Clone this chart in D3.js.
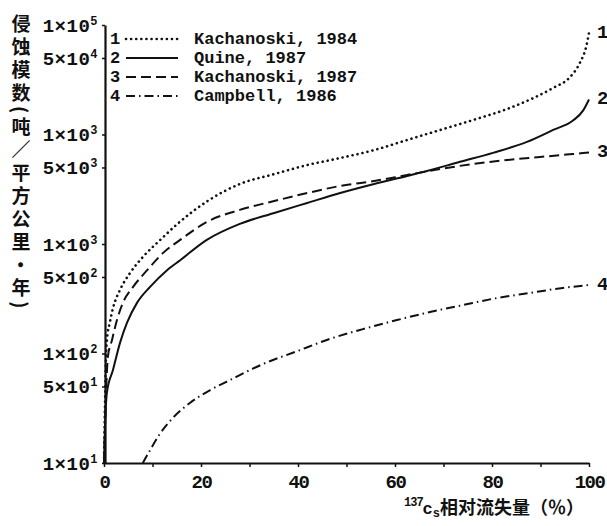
<!DOCTYPE html>
<html lang="zh">
<head>
<meta charset="UTF-8">
<title>137Cs 相对流失量与侵蚀模数</title>
<script src="https://d3js.org/d3.v7.min.js"></script>
<style>
  body { margin: 0; background: #fff; }
  .num { font-family: "Liberation Mono", "DejaVu Sans Mono", monospace; font-weight: bold; fill: #111; }
  .cjk { font-family: "Noto Sans CJK SC", sans-serif; font-weight: bold; fill: #111; }
  .axis path, .axis line { stroke: #111; }
</style>
</head>
<body>
<script>
// values: [137Cs loss %, erosion rate t/km2/yr]
const kach1984 = [[0,10],[0.2,35],[0.4,90],[0.6,133],[1.24,195],[1.86,260],[3.3,380],[5.4,546],[8,760],
  [11.6,1090],[15.1,1520],[21.3,2460],[28,3530],[35.1,4350],[41.9,5260],[48.7,6100],[55.7,7210],
  [62.5,8910],[69.3,11000],[76.1,13560],[83.1,17100],[88.5,21500],[92.6,26600],[96.1,33500],
  [98.1,45000],[99.4,63000],[100,84500]];
const quine1987 = [[0,10],[0.2,21],[0.6,44],[1.86,71],[3.3,125],[4.75,191],[6.8,290],[9.5,406],
  [13,577],[15.7,711],[21.2,1090],[28,1525],[35.1,1920],[41.9,2370],[48.7,2920],[55.7,3530],
  [62.5,4180],[66.6,4640],[73.4,5630],[80.2,6800],[87.2,8560],[92.6,11000],[96.7,13400],
  [98.8,16600],[100,20900]];
const kach1987 = [[0,10],[0.3,30],[0.8,93],[1.65,133],[2.7,204],[3.9,290],[6,406],[8.9,577],[12.2,830],
  [15.7,1090],[21.2,1590],[28,2050],[35.1,2470],[41.9,2920],[48.7,3390],[55.7,3760],[62.5,4270],
  [69.3,4840],[76.1,5380],[83.1,5850],[89.9,6230],[96.7,6640],[100,6850]];
const campbell1986 = [[8,10],[9.5,13.1],[11.5,18.4],[14.2,25.8],[17.7,35.3],[21.9,46.4],[26,57.3],
  [32.8,80.2],[39.8,105],[46.6,136],[53.4,167],[60.4,202],[67.2,239],[74,277],[81,321],[87.8,357],
  [94.6,397],[100,422]];

const seriesData = [kach1984, quine1987, kach1987, campbell1986];
const seriesNames = ["Kachanoski, 1984", "Quine, 1987", "Kachanoski, 1987", "Campbell, 1986"];
const seriesDash = ["0.1 5", null, "10 5", "9 4 1.5 4"];

const xTicks = d3.range(0, 101, 10);
const yTicks = [1e5, 5e4, 1e4, 5e3, 1e3, 5e2, 1e2, 5e1, 1e1];
const yTickMant = ["1", "5", "1", "5", "1", "5", "1", "5", "1"];
const yTickExp = ["5", "4", "3", "3", "3", "2", "2", "1", "1"]; // as printed
const yTitle = "侵蚀模数(吨／平方公里·年)";

const width = 607, height = 526;

const svg = d3.select("body").append("svg")
  .attr("width", width)
  .attr("height", height)
  .style("background", "#fff");

const x = d3.scaleLinear().domain([0, 100]).range([104, 589]);
const y = d3.scaleLog().domain([10, 1e5]).range([463, 25]);

// x axis
const xAxis = svg.append("g")
  .attr("class", "axis num")
  .attr("transform", `translate(0,${y(10)})`)
  .call(d3.axisBottom(x).tickValues(xTicks).tickSize(4).tickSizeOuter(0).tickPadding(8)
    .tickFormat(d => d % 20 === 0 ? d : ""));
xAxis.select(".domain").attr("stroke-width", 2.2);
xAxis.selectAll(".tick line").attr("stroke-width", 1.5);
xAxis.selectAll("text").attr("class", "num").style("font-size", "19px")
  .style("letter-spacing", "-1.5px").attr("fill", "#111");

// y axis
const yAxis = svg.append("g")
  .attr("class", "axis")
  .attr("transform", `translate(${x(0) + 1},0)`)
  .call(d3.axisLeft(y).tickValues(yTicks).tickSize(3).tickSizeOuter(0).tickPadding(4));
yAxis.select(".domain").attr("stroke-width", 2.2);
yAxis.selectAll(".tick line").attr("stroke-width", 1.5);
yAxis.selectAll("text").each(function (d, i) {
  const t = d3.select(this).text(null).attr("class", "num").attr("fill", "#111")
    .style("font-size", "19px").style("letter-spacing", "0.5px");
  t.append("tspan").text(yTickMant[i] + "×10");
  t.append("tspan").text(yTickExp[i]).style("font-size", "12px").attr("dy", "-0.55em");
});

// y title, vertical
svg.append("text")
  .attr("class", "cjk")
  .attr("x", 21)
  .attr("y", 14)
  .style("writing-mode", "vertical-rl")
  .style("font-size", "19px")
  .style("letter-spacing", "4px")
  .text(yTitle);

// x title
const xt = svg.append("text").attr("class", "cjk").attr("x", 404).attr("y", 514).style("font-size", "18px");
xt.append("tspan").attr("class", "num").text("137").style("font-size", "12px").attr("dy", -8).style("letter-spacing", "-1px");
xt.append("tspan").attr("class", "num").text("c").style("font-size", "17px").attr("dy", 8);
xt.append("tspan").attr("class", "num").text("s").style("font-size", "12px").attr("dy", 3);
xt.append("tspan").text("相对流失量（％）").attr("dy", -3);

// curves
const line = d3.line()
  .x(d => x(d[0]))
  .y(d => y(d[1]))
  .curve(d3.curveMonotoneX);

svg.append("g").selectAll("path")
  .data(seriesData)
  .join("path")
  .attr("d", line)
  .attr("fill", "none")
  .attr("stroke", "#111")
  .attr("stroke-width", (d, i) => i === 0 ? 2.6 : 2)
  .attr("stroke-linecap", (d, i) => i === 0 ? "round" : "butt")
  .attr("stroke-dasharray", (d, i) => seriesDash[i]);

// curve end labels
svg.append("g").selectAll("text")
  .data(seriesData)
  .join("text")
  .attr("class", "num")
  .attr("x", x(100) + 8)
  .attr("y", d => y(d[d.length - 1][1]))
  .attr("dominant-baseline", "central")
  .style("font-size", "19px")
  .text((d, i) => i + 1);

// legend
const legend = svg.append("g").selectAll("g")
  .data(seriesNames)
  .join("g")
  .attr("transform", (d, i) => `translate(0,${39 + i * 19})`);
legend.append("text")
  .attr("class", "num")
  .attr("x", 115)
  .attr("text-anchor", "middle")
  .attr("dominant-baseline", "central")
  .style("font-size", "17px")
  .text((d, i) => i + 1);
legend.append("line")
  .attr("x1", 126).attr("x2", 178)
  .attr("stroke", "#111")
  .attr("stroke-width", (d, i) => i === 0 ? 2.6 : 2)
  .attr("stroke-linecap", (d, i) => i === 0 ? "round" : "butt")
  .attr("stroke-dasharray", (d, i) => seriesDash[i]);
legend.append("text")
  .attr("class", "num")
  .attr("x", 194)
  .attr("dominant-baseline", "central")
  .style("font-size", "17px")
  .text(d => d);
</script>
</body>
</html>
